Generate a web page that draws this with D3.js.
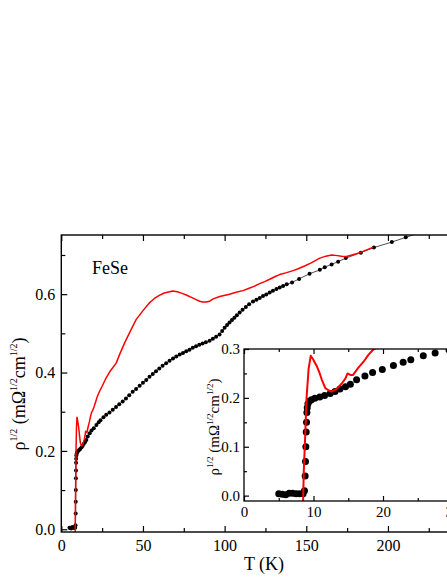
<!DOCTYPE html>
<html><head><meta charset="utf-8">
<script src="https://cdn.jsdelivr.net/npm/d3@7"></script>
<style>body{margin:0;background:#fff}svg{display:block}text{font-family:"Liberation Serif","Times New Roman",serif;fill:#000}</style>
</head><body><svg id="c" width="447" height="578"></svg>
<script>
// ---- data ----
const blackT = [5.0,5.5,6.0,6.5,7.0,7.5,8.0,8.5,8.7,8.8,8.85,8.9,8.95,9.0,9.05,9.1,9.2,9.4,9.7,10.2,10.9,11.6,12.4,13.1,13.8,14.6,15.3,16.2,17.4,18.5,19.9,21.5,22.9,24.0,25.8,27.5,29.5,31.5,33.5,35.5,37.6,39.6,41.6,43.7,45.8,48,50,52,54,56,58,60,62,64.2,66.3,68.4,70.4,72.5,74.5,76.5,78.5,80.5,82.5,84.5,86.5,88.5,90.8,92.8,94.8,96.9,98.5,100,101.5,103,104.5,106,107.5,109.2,111,113,115,117.4,119.5,121.5,123.5,125.5,127.6,129.6,131.7,133.7,135.8,138,141.3,145.6,152,158.3,161.3,165.5,169.5,174.2,183.4,191.4,202.4,210.9,225];
const blackV = [0.004,0.003,0.002,0.005,0.005,0.004,0.004,0.004,0.01,0.04,0.07,0.10,0.13,0.15,0.17,0.18,0.188,0.193,0.196,0.199,0.202,0.205,0.209,0.213,0.218,0.223,0.228,0.237,0.245,0.252,0.258,0.266,0.273,0.278,0.286,0.292,0.298,0.305,0.312,0.319,0.326,0.334,0.342,0.351,0.358,0.366,0.374,0.381,0.389,0.396,0.403,0.410,0.417,0.424,0.430,0.436,0.441,0.446,0.450,0.454,0.458,0.463,0.467,0.471,0.474,0.477,0.481,0.486,0.491,0.497,0.506,0.514,0.521,0.528,0.534,0.540,0.546,0.553,0.560,0.567,0.574,0.581,0.586,0.590,0.595,0.599,0.604,0.609,0.613,0.617,0.621,0.625,0.630,0.639,0.652,0.662,0.669,0.676,0.683,0.692,0.706,0.719,0.733,0.745,0.764];
const redT = [8.5,8.6,8.8,9.0,9.3,9.6,9.9,10.2,10.5,10.9,11.2,11.7,12.2,12.6,13.3,14.1,14.6,14.9,15.3,15.7,16.4,17.2,17.9,18.6,19.2,20,21,22,23.3,25,27.4,30,33.6,35.6,38.7,42.8,45.8,50,54,57,60,63,66.3,68.3,71,74,76.5,80,82.6,84.7,86.7,88.8,90.8,93,97,99,103,107,111.2,115,118,121.5,124.5,127.6,131,133.7,138,141.9,145,149,153,158.3,162,165.5,168,171.6,174.6,178,182.8,187,191];
const redV = [-0.015,0.05,0.12,0.20,0.26,0.286,0.280,0.272,0.264,0.250,0.237,0.220,0.215,0.213,0.218,0.230,0.240,0.250,0.247,0.247,0.261,0.274,0.288,0.299,0.303,0.312,0.325,0.338,0.351,0.365,0.386,0.404,0.424,0.445,0.475,0.510,0.535,0.558,0.578,0.589,0.597,0.603,0.606,0.608,0.606,0.602,0.598,0.591,0.586,0.582,0.580,0.580,0.582,0.588,0.594,0.596,0.600,0.605,0.609,0.615,0.620,0.627,0.632,0.638,0.645,0.650,0.655,0.660,0.665,0.672,0.680,0.692,0.697,0.700,0.699,0.697,0.696,0.700,0.706,0.713,0.720];
const mainXTicks = [0,50,100,150,200];
const mainXMinor = [25,75,125,175,225,250];
const mainYTicks = [0.0,0.2,0.4,0.6];
const mainYMinor = [0.1,0.3,0.5,0.7];
const insetXTicks = [0,10,20,30];
const insetXMinor = [5,15,25];
const insetYTicks = [0.0,0.1,0.2,0.3];
const insetYMinor = [0.05,0.15,0.25];
const sampleLabel = "FeSe";
const xTitle = "T (K)";

const black = blackT.map((t,i)=>({t, v: blackV[i]}));
const red = redT.map((t,i)=>({t, v: redV[i]}));

const svg = d3.select("#c");
const fmt = d3.format(".1f");

function panel(g, id, x, y, o) {
  const [x0,x1] = x.range(), [y0,y1] = y.range();
  g.append("rect").attr("x",x0).attr("y",y1).attr("width",x1-x0).attr("height",y0-y1).attr("fill","#fff");
  svg.append("clipPath").attr("id",id).append("rect").attr("x",x0).attr("y",y1).attr("width",x1-x0).attr("height",y0-y1);
  const plot = g.append("g").attr("clip-path",`url(#${id})`);
  if (o.line) plot.append("path").datum(black).attr("fill","none").attr("stroke","#222").attr("stroke-width",0.8)
      .attr("d", d3.line().x(d=>x(d.t)).y(d=>y(d.v)));
  plot.selectAll("circle").data(black).join("circle").attr("cx",d=>x(d.t)).attr("cy",d=>y(d.v)).attr("r",o.r).attr("fill","#000");
  plot.append("path").datum(red).attr("fill","none").attr("stroke","#ff0000").attr("stroke-width",o.rw).attr("stroke-linejoin","round")
      .attr("d", d3.line().x(d=>x(d.t)).y(d=>y(d.v)));
  const style = a => { a.select(".domain").remove(); a.selectAll("line").attr("stroke","#000").attr("stroke-width",1.2); a.selectAll("text").attr("font-size",o.fs).attr("font-family",'"Liberation Serif","Times New Roman",serif'); };
  const ax = (fn, sc, pos, vals, minor, lab, pad) => {
    const gg = g.append("g").attr("transform", pos);
    gg.call(fn(sc).tickValues(vals).tickSize(-o.maj).tickSizeOuter(0).tickPadding(pad).tickFormat(lab ? (sc===x ? d3.format("d") : fmt) : ""));
    style(gg);
    const gm = g.append("g").attr("transform", pos);
    gm.call(fn(sc).tickValues(minor).tickSize(-o.min).tickSizeOuter(0).tickFormat(""));
    style(gm);
    return gg;
  };
  ax(d3.axisBottom, x, `translate(0,${y0})`, o.xt, o.xm, true, o.padx);
  ax(d3.axisTop, x, `translate(0,${y1})`, o.xt, o.xm, false, 0);
  ax(d3.axisLeft, y, `translate(${x0},0)`, o.yt, o.ym, true, o.pady);
  ax(d3.axisRight, y, `translate(${x1},0)`, o.yt, o.ym, false, 0);
  g.append("rect").attr("x",x0).attr("y",y1).attr("width",x1-x0).attr("height",y0-y1).attr("fill","none").attr("stroke","#000").attr("stroke-width",o.fw);
}

function yTitle(g, cx, cy, fs) {
  const t = g.append("text").attr("transform",`translate(${cx},${cy}) rotate(-90)`).attr("text-anchor","middle").attr("font-size",fs);
  const s = Math.round(fs*0.58), up = fs*0.42;
  t.append("tspan").text("ρ");
  t.append("tspan").attr("font-size",s).attr("dy",-up).text("1/2");
  t.append("tspan").attr("dy",up).text(" (mΩ");
  t.append("tspan").attr("font-size",s).attr("dy",-up).text("1/2");
  t.append("tspan").attr("dy",up).text("cm");
  t.append("tspan").attr("font-size",s).attr("dy",-up).text("1/2");
  t.append("tspan").attr("dy",up).text(")");
}

// main panel
const xm = d3.scaleLinear().domain([0,250]).range([61.3,469.6]);
const ym = d3.scaleLinear().domain([-0.007,0.751]).range([532,235]);
const gMain = svg.append("g");
panel(gMain, "clipMain", xm, ym, {line:true, r:2, rw:1.5, fs:16, maj:6, min:4, fw:1.4, xt:mainXTicks, xm:mainXMinor, yt:mainYTicks, ym:mainYMinor, padx:8, pady:6});
gMain.append("text").attr("x",xm(18.8)).attr("y",ym(0.651)).attr("font-size",18).text(sampleLabel);
gMain.append("text").attr("x",264).attr("y",570).attr("text-anchor","middle").attr("font-size",18).text(xTitle);
yTitle(gMain, 25, 394, 18);

// inset panel
const xi = d3.scaleLinear().domain([0,30]).range([244,452.5]);
const yi = d3.scaleLinear().domain([-0.011,0.3]).range([501,349]);
const gIn = svg.append("g");
panel(gIn, "clipIn", xi, yi, {line:false, r:3.5, rw:2, fs:15, maj:5, min:3, fw:1.3, xt:insetXTicks, xm:insetXMinor, yt:insetYTicks, ym:insetYMinor, padx:5, pady:4});
yTitle(gIn, 219, 427, 15);
</script></body></html>
